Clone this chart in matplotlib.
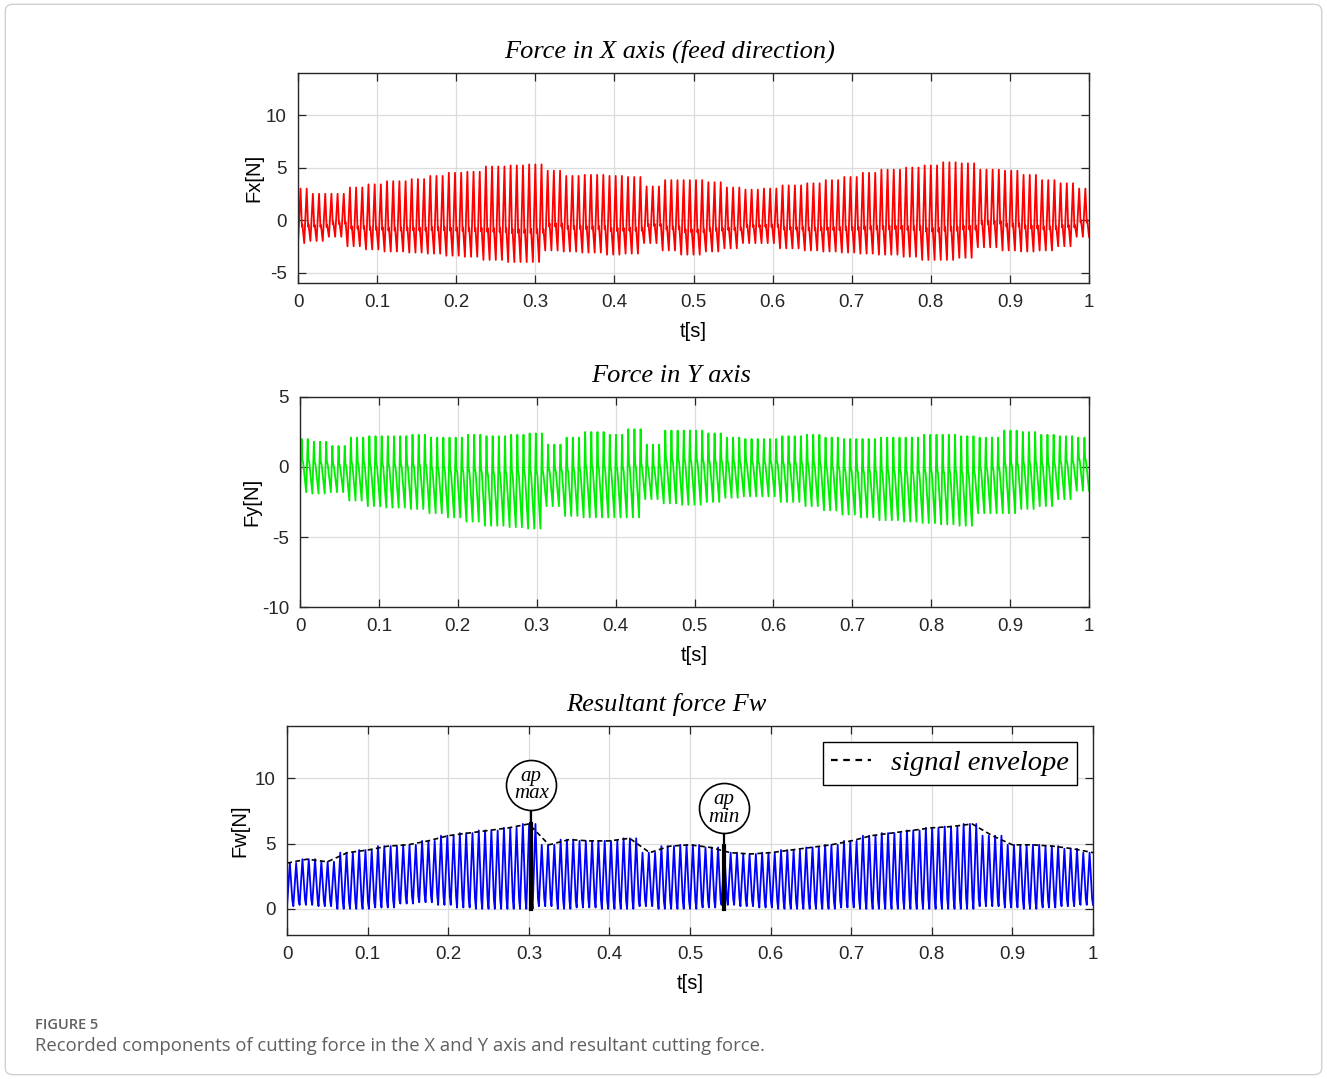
"""
Cutting force components (Fx, Fy) and resultant force Fw over one second.
Signal envelopes are read off the figure every 25 ms; each tool-pass cycle
takes the envelope value of the sample it falls in.
"""
import matplotlib
matplotlib.use("Agg")
import matplotlib.pyplot as plt
import matplotlib.patches as mpatches
import numpy as np

_C = {
    "fx":     "#FF0000",
    "fy":     "#00EE00",
    "fw":     "#0000FF",
    "grid":   "#DCDCDC",
    "axis":   "#262626",
    "cap":    "#606060",
    "border": "#D0D0D0",
}

TICK_FONT = "Liberation Sans"
TITLE_FONT = "Liberation Serif"

plt.rcParams.update({"axes.unicode_minus": False})

# ── data ──────────────────────────────────────────────────────────────────────

n_cycles = 128
env_t = np.linspace(0.0, 1.0, 41)          # 0, 0.025, ... 1.0 s

fx_hi = [3.0, 2.5, 2.5, 3.1, 3.4, 3.7, 3.9, 4.2, 4.5, 4.6, 5.1, 5.2, 5.3, 4.7,
         4.2, 4.3, 4.2, 4.1, 3.2, 3.8, 3.8, 3.6, 3.1, 2.9, 3.0, 3.3, 3.5, 3.8,
         4.1, 4.5, 4.8, 5.0, 5.2, 5.5, 5.4, 4.8, 4.7, 4.3, 3.8, 3.5, 3.0]
fx_lo = [-2.2, -2.0, -1.6, -2.5, -2.8, -3.0, -3.1, -3.2, -3.4, -3.5, -3.8, -4.0,
         -4.0, -2.9, -3.0, -3.1, -3.3, -3.2, -2.2, -2.9, -3.3, -3.0, -2.7, -2.2,
         -2.2, -2.7, -2.9, -3.0, -3.1, -3.2, -3.3, -3.5, -3.8, -3.8, -3.6, -2.6,
         -2.9, -3.0, -2.9, -2.5, -1.6]

fy_hi = [2.0, 1.8, 1.5, 2.1, 2.2, 2.2, 2.3, 2.1, 2.1, 2.3, 2.2, 2.3, 2.4, 1.6,
         2.1, 2.5, 2.3, 2.7, 1.6, 2.6, 2.6, 2.4, 2.1, 2.0, 2.0, 2.2, 2.3, 2.1,
         2.0, 2.0, 2.1, 2.1, 2.3, 2.3, 2.2, 2.1, 2.6, 2.5, 2.3, 2.2, 2.1]
fy_lo = [-1.8, -1.9, -1.8, -2.4, -2.8, -2.9, -3.0, -3.3, -3.6, -3.9, -4.2, -4.3,
         -4.4, -2.8, -3.5, -3.6, -3.6, -3.6, -2.3, -2.6, -2.7, -2.5, -2.2, -2.1,
         -2.1, -2.5, -2.8, -3.1, -3.4, -3.6, -3.8, -3.9, -4.0, -4.1, -4.2, -3.3,
         -3.3, -3.0, -2.8, -2.3, -1.7]

fw_hi = [3.5, 3.8, 3.6, 4.3, 4.5, 4.8, 4.9, 5.2, 5.6, 5.8, 6.0, 6.2, 6.5, 4.9,
         5.3, 5.2, 5.2, 5.4, 4.3, 4.8, 4.9, 4.7, 4.3, 4.2, 4.3, 4.5, 4.7, 4.9,
         5.2, 5.6, 5.8, 6.0, 6.2, 6.3, 6.5, 5.6, 4.9, 4.9, 4.8, 4.6, 4.3]
fw_lo = [0.2, 0.3, 0.2, 0.0, 0.0, 0.1, 0.4, 0.5, 0.3, 0.1, 0.0, 0.0, 0.0, 0.2,
         0.0, 0.1, 0.0, 0.0, 0.2, 0.0, 0.0, 0.1, 0.3, 0.2, 0.1, 0.0, 0.0, 0.0,
         0.1, 0.0, 0.0, 0.0, 0.0, 0.0, 0.0, 0.2, 0.1, 0.0, 0.1, 0.2, 0.3]

# one cycle of each signal: (phase, fraction between trough and peak)
fx_shape = [(0.0, 0.0), (0.40, 1.0), (0.62, 0.30), (0.70, 0.34)]
fy_shape = [(0.0, 0.0), (0.25, 1.0), (0.36, 0.62), (0.50, 0.56)]
fw_shape = [(0.0, 0.0), (0.45, 1.0), (0.85, 0.12)]

ap_t = [0.303, 0.542]
ap_f = [6.5, 4.8]
ap_circle_f = [9.5, 7.7]
ap_labels = [("ap", "max"), ("ap", "min")]


# ── helpers ───────────────────────────────────────────────────────────────────

def _signal(hi, lo, shape):
    hi, lo = np.asarray(hi), np.asarray(lo)
    t, y = [], []
    for k in range(n_cycles):
        i = int(np.argmin(np.abs(env_t - (k + 0.5) / n_cycles)))
        for phase, frac in shape:
            t.append((k + phase) / n_cycles)
            y.append(lo[i] + frac * (hi[i] - lo[i]))
    t.append(1.0)
    y.append(lo[-1])
    return np.array(t), np.array(y)


def _style(ax, ylim, yticks, ylabel, title, ylabelpad):
    ax.set_xlim(0, 1)
    ax.set_ylim(*ylim)
    ax.set_xticks(np.arange(0, 1.01, 0.1))
    ax.set_xticklabels(["0"] + [f"{v:.1f}" for v in np.arange(0.1, 0.95, 0.1)] + ["1"])
    ax.set_yticks(yticks)
    ax.grid(True, color=_C["grid"], linewidth=0.9)
    ax.set_axisbelow(True)
    ax.tick_params(direction="in", top=True, right=True, length=6, width=0.9,
                   labelsize=13.5, pad=8, colors=_C["axis"])
    for lab in ax.get_xticklabels() + ax.get_yticklabels():
        lab.set_fontfamily(TICK_FONT)
    for sp in ax.spines.values():
        sp.set_color(_C["axis"])
        sp.set_linewidth(1.0)
    ax.set_xlabel("t[s]", fontsize=14.5, family=TICK_FONT, labelpad=8)
    ax.set_ylabel(ylabel, fontsize=14.5, family=TICK_FONT, labelpad=ylabelpad)
    ax.set_title(title, fontsize=19, family=TITLE_FONT, style="italic",
                 pad=11, x=0.47)


# ── figure ────────────────────────────────────────────────────────────────────

fig = plt.figure(figsize=(13.27, 10.79), dpi=100)
fig.patches.append(mpatches.FancyBboxPatch(
    (0.004, 0.004), 0.992, 0.992, boxstyle="round,pad=0,rounding_size=0.006",
    transform=fig.transFigure, fill=False, edgecolor=_C["border"], linewidth=1.0))

ax1 = fig.add_axes([0.2246, 0.7377, 0.5961, 0.1946])
ax2 = fig.add_axes([0.2261, 0.4374, 0.5946, 0.1947])
ax3 = fig.add_axes([0.2163, 0.1335, 0.6074, 0.1937])

t, y = _signal(fx_hi, fx_lo, fx_shape)
ax1.plot(t, y, color=_C["fx"], linewidth=1.3)
_style(ax1, (-6, 14), [-5, 0, 5, 10], "Fx[N]", "Force in X axis (feed direction)", 2)

t, y = _signal(fy_hi, fy_lo, fy_shape)
ax2.plot(t, y, color=_C["fy"], linewidth=1.3)
_style(ax2, (-10, 5), [-10, -5, 0, 5], "Fy[N]", "Force in Y axis", 0)

t, y = _signal(fw_hi, fw_lo, fw_shape)
ax3.plot(t, y, color=_C["fw"], linewidth=1.3)
ax3.plot(env_t, fw_hi, color="black", linestyle=(0, (3, 2)), linewidth=1.2,
         label="signal envelope")
_style(ax3, (-2, 14), [0, 5, 10], "Fw[N]", "Resultant force Fw", 4)

# ap max / ap min markers
for x, f, fc, (l1, l2) in zip(ap_t, ap_f, ap_circle_f, ap_labels):
    ax3.plot([x, x], [0, f], color="black", linewidth=3.0, zorder=4)
    ax3.plot([x, x], [f, fc - 1.9], color="black", linewidth=1.6, zorder=4)
    ax3.plot(x, fc, marker="o", markersize=36, markerfacecolor="white",
             markeredgecolor="black", markeredgewidth=1.2, zorder=5)
    ax3.text(x, fc + 0.65, l1, ha="center", va="center", fontsize=15,
             family=TITLE_FONT, style="italic", zorder=6)
    ax3.text(x, fc - 0.7, l2, ha="center", va="center", fontsize=15,
             family=TITLE_FONT, style="italic", zorder=6)

leg = ax3.legend(loc="upper right", handlelength=1.4, handletextpad=0.7,
                 borderaxespad=0.55, borderpad=0.3, fancybox=False,
                 framealpha=1.0, edgecolor="black",
                 prop={"family": TITLE_FONT, "style": "italic", "size": 20.5})
leg.get_frame().set_linewidth(1.0)
leg.get_lines()[0].set_linewidth(1.6)
leg.get_lines()[0].set_dashes((3, 2.5))

fig.text(0.026, 0.046, "FIGURE 5", fontsize=10.5, color=_C["cap"],
         family="Open Sans", weight="semibold")
fig.text(0.026, 0.026,
         "Recorded components of cutting force in the X and Y axis and resultant cutting force.",
         fontsize=13.3, color=_C["cap"], family="Open Sans")

fig.savefig("out.png", dpi=100)
